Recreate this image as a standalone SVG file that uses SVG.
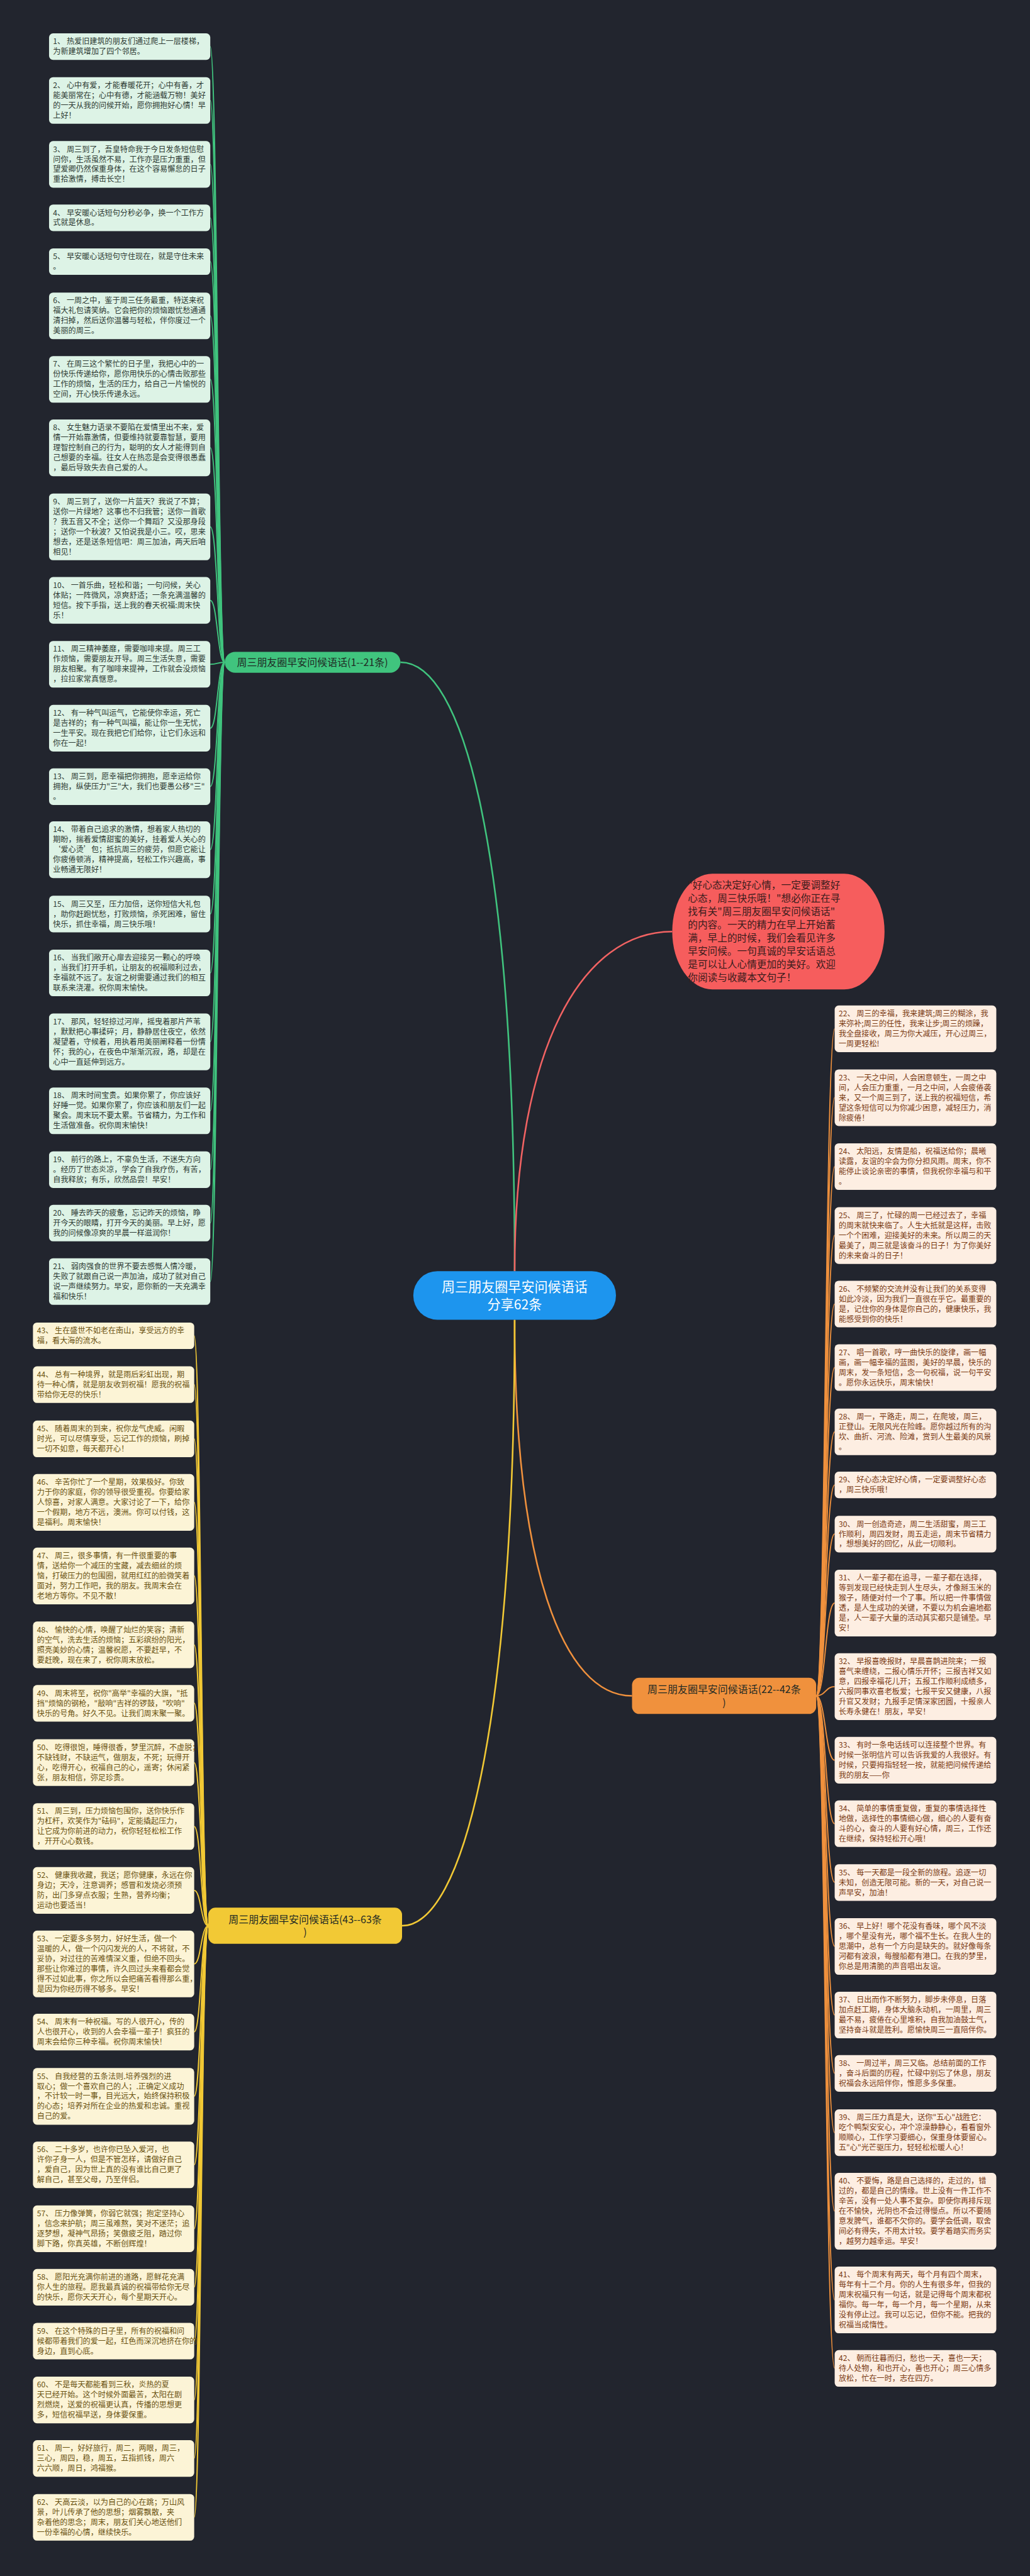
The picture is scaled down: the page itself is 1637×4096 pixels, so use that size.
<svg xmlns="http://www.w3.org/2000/svg" width="1637" height="4096" viewBox="0 0 1637 4096">
<style>
.t{font-family:"Noto Sans CJK SC","Noto Sans",sans-serif;font-size:19px}
.tg{fill:#2d3a33}.to{fill:#7a3a12}.ty{fill:#6a5210}
.rg{fill:#ddf3e6}.ro{fill:#fdeee2}.ry{fill:#fcf4d6}
.cg{stroke:#40c47e;stroke-width:3;fill:none}
.co{stroke:#f0913d;stroke-width:3;fill:none}
.cy{stroke:#f2c935;stroke-width:3;fill:none}
.m{stroke-width:4;fill:none}
.bt{font-family:"Noto Sans CJK SC","Noto Sans",sans-serif;font-size:25px;fill:#1f2a24;text-anchor:middle}
</style>
<rect width="1637" height="4096" fill="#22252e"/>
<g transform="scale(0.639)">
<g id="connectors">
<path class="m" stroke="#40c47e" d="M1280,3163 C1280,2100 1150,1648 996,1648"/>
<path class="m" stroke="#f26363" d="M1280,3163 C1280,2600 1450,2318 1672,2318"/>
<path class="m" stroke="#f0913d" d="M1280,3284 C1280,3900 1400,4220 1572,4220"/>
<path class="m" stroke="#f2c935" d="M1280,3284 C1280,4300 1150,4792 1000,4792"/>
<path class="cg" d="M559,1648 C541,1648 541,116 523,116"/>
<path class="cg" d="M559,1648 C541,1648 541,250 523,250"/>
<path class="cg" d="M559,1648 C541,1648 541,409 523,409"/>
<path class="cg" d="M559,1648 C541,1648 541,542 523,542"/>
<path class="cg" d="M559,1648 C541,1648 541,651 523,651"/>
<path class="cg" d="M559,1648 C541,1648 541,786 523,786"/>
<path class="cg" d="M559,1648 C541,1648 541,944 523,944"/>
<path class="cg" d="M559,1648 C541,1648 541,1114 523,1114"/>
<path class="cg" d="M559,1648 C541,1648 541,1311 523,1311"/>
<path class="cg" d="M559,1648 C541,1648 541,1494 523,1494"/>
<path class="cg" d="M559,1648 C541,1648 541,1653 523,1653"/>
<path class="cg" d="M559,1648 C541,1648 541,1812 523,1812"/>
<path class="cg" d="M559,1648 C541,1648 541,1957 523,1957"/>
<path class="cg" d="M559,1648 C541,1648 541,2114 523,2114"/>
<path class="cg" d="M559,1648 C541,1648 541,2274 523,2274"/>
<path class="cg" d="M559,1648 C541,1648 541,2421 523,2421"/>
<path class="cg" d="M559,1648 C541,1648 541,2592 523,2592"/>
<path class="cg" d="M559,1648 C541,1648 541,2764 523,2764"/>
<path class="cg" d="M559,1648 C541,1648 541,2910 523,2910"/>
<path class="cg" d="M559,1648 C541,1648 541,3043 523,3043"/>
<path class="cg" d="M559,1648 C541,1648 541,3189 523,3189"/>
<path class="co" d="M2030,4220 C2053,4220 2053,2560 2076,2560"/>
<path class="co" d="M2030,4220 C2053,4220 2053,2731 2076,2731"/>
<path class="co" d="M2030,4220 C2053,4220 2053,2903 2076,2903"/>
<path class="co" d="M2030,4220 C2053,4220 2053,3074 2076,3074"/>
<path class="co" d="M2030,4220 C2053,4220 2053,3245 2076,3245"/>
<path class="co" d="M2030,4220 C2053,4220 2053,3403 2076,3403"/>
<path class="co" d="M2030,4220 C2053,4220 2053,3563 2076,3563"/>
<path class="co" d="M2030,4220 C2053,4220 2053,3695 2076,3695"/>
<path class="co" d="M2030,4220 C2053,4220 2053,3817 2076,3817"/>
<path class="co" d="M2030,4220 C2053,4220 2053,3989 2076,3989"/>
<path class="co" d="M2030,4220 C2053,4220 2053,4197 2076,4197"/>
<path class="co" d="M2030,4220 C2053,4220 2053,4380 2076,4380"/>
<path class="co" d="M2030,4220 C2053,4220 2053,4538 2076,4538"/>
<path class="co" d="M2030,4220 C2053,4220 2053,4684 2076,4684"/>
<path class="co" d="M2030,4220 C2053,4220 2053,4843 2076,4843"/>
<path class="co" d="M2030,4220 C2053,4220 2053,5014 2076,5014"/>
<path class="co" d="M2030,4220 C2053,4220 2053,5159 2076,5159"/>
<path class="co" d="M2030,4220 C2053,4220 2053,5307 2076,5307"/>
<path class="co" d="M2030,4220 C2053,4220 2053,5502 2076,5502"/>
<path class="co" d="M2030,4220 C2053,4220 2053,5723 2076,5723"/>
<path class="co" d="M2030,4220 C2053,4220 2053,5893 2076,5893"/>
<path class="cy" d="M518,4792 C500,4792 500,3324 483,3324"/>
<path class="cy" d="M518,4792 C500,4792 500,3445 483,3445"/>
<path class="cy" d="M518,4792 C500,4792 500,3580 483,3580"/>
<path class="cy" d="M518,4792 C500,4792 500,3738 483,3738"/>
<path class="cy" d="M518,4792 C500,4792 500,3921 483,3921"/>
<path class="cy" d="M518,4792 C500,4792 500,4093 483,4093"/>
<path class="cy" d="M518,4792 C500,4792 500,4238 483,4238"/>
<path class="cy" d="M518,4792 C500,4792 500,4386 483,4386"/>
<path class="cy" d="M518,4792 C500,4792 500,4545 483,4545"/>
<path class="cy" d="M518,4792 C500,4792 500,4704 483,4704"/>
<path class="cy" d="M518,4792 C500,4792 500,4887 483,4887"/>
<path class="cy" d="M518,4792 C500,4792 500,5056 483,5056"/>
<path class="cy" d="M518,4792 C500,4792 500,5216 483,5216"/>
<path class="cy" d="M518,4792 C500,4792 500,5387 483,5387"/>
<path class="cy" d="M518,4792 C500,4792 500,5546 483,5546"/>
<path class="cy" d="M518,4792 C500,4792 500,5691 483,5691"/>
<path class="cy" d="M518,4792 C500,4792 500,5825 483,5825"/>
<path class="cy" d="M518,4792 C500,4792 500,5972 483,5972"/>
<path class="cy" d="M518,4792 C500,4792 500,6117 483,6117"/>
<path class="cy" d="M518,4792 C500,4792 500,6264 483,6264"/>
</g>

<g id="center"><rect x="1028" y="3163" width="504" height="121" rx="60" fill="#1d95ee"/>
<text font-family="Noto Sans CJK SC, Noto Sans, sans-serif" font-size="33" fill="#ffffff" text-anchor="middle"><tspan x="1280" y="3214">周三朋友圈早安问候语话</tspan><tspan x="1280" y="3258">分享62条</tspan></text></g>

<g id="intro"><rect x="1672" y="2174" width="528" height="288" rx="100" ry="144" fill="#f65d5d"/>
<text font-family="Noto Sans CJK SC, Noto Sans, sans-serif" font-size="24.5" fill="#3a1c1c"><tspan x="1711" y="2212">"好心态决定好心情，一定要调整好</tspan><tspan x="1711" dy="32.7">心态，周三快乐哦！"想必你正在寻</tspan><tspan x="1711" dy="32.7">找有关"周三朋友圈早安问候语话"</tspan><tspan x="1711" dy="32.7">的内容。一天的精力在早上开始蓄</tspan><tspan x="1711" dy="32.7">满，早上的时候，我们会看见许多</tspan><tspan x="1711" dy="32.7">早安问候。一句真诚的早安话语总</tspan><tspan x="1711" dy="32.7">是可以让人心情更加的美好。欢迎</tspan><tspan x="1711" dy="32.7">你阅读与收藏本文句子！</tspan></text></g>

<g id="b1"><rect x="559" y="1622" width="437" height="52" rx="26" fill="#40c47e"/><text class="bt" x="777" y="1657">周三朋友圈早安问候语话(1--21条)</text></g>
<g id="b2"><rect x="1572" y="4175" width="458" height="90" rx="18" fill="#f0913d"/><text class="bt"><tspan x="1801" y="4213">周三朋友圈早安问候语话(22--42条</tspan><tspan x="1801" dy="32">)</tspan></text></g>
<g id="b3"><rect x="518" y="4747" width="482" height="90" rx="18" fill="#f2c935"/><text class="bt"><tspan x="759" y="4785">周三朋友圈早安问候语话(43--63条</tspan><tspan x="759" dy="32">)</tspan></text></g>

<g id="n1" transform="translate(122,83)"><rect class="rg" width="401" height="66" rx="10"/><text class="t tg"><tspan x="10" y="27">1、 热爱旧建筑的朋友们通过爬上一层楼梯，</tspan><tspan x="10" dy="25">为新建筑增加了四个邻居。</tspan></text></g>
<g id="n2" transform="translate(122,192)"><rect class="rg" width="401" height="116" rx="10"/><text class="t tg"><tspan x="10" y="27">2、 心中有爱，才能春暖花开；心中有善，才</tspan><tspan x="10" dy="25">能美丽常在；心中有德，才能涵载万物！美好</tspan><tspan x="10" dy="25">的一天从我的问候开始，愿你拥抱好心情！早</tspan><tspan x="10" dy="25">上好！</tspan></text></g>
<g id="n3" transform="translate(122,351)"><rect class="rg" width="401" height="116" rx="10"/><text class="t tg"><tspan x="10" y="27">3、 周三到了，吾皇特命我于今日发条短信慰</tspan><tspan x="10" dy="25">问你，生活虽然不易，工作亦是压力重重，但</tspan><tspan x="10" dy="25">望爱卿仍然保重身体，在这个容易懈怠的日子</tspan><tspan x="10" dy="25">重拾激情，搏击长空！</tspan></text></g>
<g id="n4" transform="translate(122,509)"><rect class="rg" width="401" height="66" rx="10"/><text class="t tg"><tspan x="10" y="27">4、 早安暖心话短句分秒必争，换一个工作方</tspan><tspan x="10" dy="25">式就是休息。</tspan></text></g>
<g id="n5" transform="translate(122,618)"><rect class="rg" width="401" height="66" rx="10"/><text class="t tg"><tspan x="10" y="27">5、 早安暖心话短句守住现在，就是守住未来</tspan><tspan x="10" dy="25">。</tspan></text></g>
<g id="n6" transform="translate(122,728)"><rect class="rg" width="401" height="116" rx="10"/><text class="t tg"><tspan x="10" y="27">6、 一周之中，鉴于周三任务最重，特送来祝</tspan><tspan x="10" dy="25">福大礼包请笑纳。它会把你的烦恼跟忧愁通通</tspan><tspan x="10" dy="25">清扫掉，然后送你温馨与轻松，伴你度过一个</tspan><tspan x="10" dy="25">美丽的周三。</tspan></text></g>
<g id="n7" transform="translate(122,886)"><rect class="rg" width="401" height="116" rx="10"/><text class="t tg"><tspan x="10" y="27">7、 在周三这个繁忙的日子里，我把心中的一</tspan><tspan x="10" dy="25">份快乐传递给你，愿你用快乐的心情击败那些</tspan><tspan x="10" dy="25">工作的烦恼，生活的压力，给自己一片愉悦的</tspan><tspan x="10" dy="25">空间，开心快乐传递永远。</tspan></text></g>
<g id="n8" transform="translate(122,1044)"><rect class="rg" width="401" height="141" rx="10"/><text class="t tg"><tspan x="10" y="27">8、 女生魅力语录不要陷在爱情里出不来，爱</tspan><tspan x="10" dy="25">情一开始靠激情，但要维持就要靠智慧，要用</tspan><tspan x="10" dy="25">理智控制自己的行为，聪明的女人才能得到自</tspan><tspan x="10" dy="25">己想要的幸福。往女人在热恋是会变得很愚蠢</tspan><tspan x="10" dy="25">，最后导致失去自己爱的人。</tspan></text></g>
<g id="n9" transform="translate(122,1228)"><rect class="rg" width="401" height="166" rx="10"/><text class="t tg"><tspan x="10" y="27">9、 周三到了，送你一片蓝天？我说了不算；</tspan><tspan x="10" dy="25">送你一片绿地？这事也不归我管；送你一首歌</tspan><tspan x="10" dy="25">？我五音又不全；送你一个舞蹈？又没那身段</tspan><tspan x="10" dy="25">；送你一个秋波？又怕说我是小三。哎，思来</tspan><tspan x="10" dy="25">想去，还是送条短信吧：周三加油，两天后咱</tspan><tspan x="10" dy="25">相见！</tspan></text></g>
<g id="n10" transform="translate(122,1436)"><rect class="rg" width="401" height="116" rx="10"/><text class="t tg"><tspan x="10" y="27">10、 一首乐曲，轻松和谐；一句问候，关心</tspan><tspan x="10" dy="25">体贴；一阵微风，凉爽舒适；一条充满温馨的</tspan><tspan x="10" dy="25">短信。按下手指，送上我的春天祝福:周末快</tspan><tspan x="10" dy="25">乐！</tspan></text></g>
<g id="n11" transform="translate(122,1595)"><rect class="rg" width="401" height="116" rx="10"/><text class="t tg"><tspan x="10" y="27">11、 周三精神萎靡，需要咖啡来提。周三工</tspan><tspan x="10" dy="25">作烦恼，需要朋友开导。周三生活失意，需要</tspan><tspan x="10" dy="25">朋友相聚。有了咖啡来提神，工作就会没烦恼</tspan><tspan x="10" dy="25">，拉拉家常真惬意。</tspan></text></g>
<g id="n12" transform="translate(122,1754)"><rect class="rg" width="401" height="116" rx="10"/><text class="t tg"><tspan x="10" y="27">12、 有一种气叫运气，它能使你幸运，死亡</tspan><tspan x="10" dy="25">是吉祥的；有一种气叫福，能让你一生无忧，</tspan><tspan x="10" dy="25">一生平安。现在我把它们给你，让它们永远和</tspan><tspan x="10" dy="25">你在一起！</tspan></text></g>
<g id="n13" transform="translate(122,1912)"><rect class="rg" width="401" height="91" rx="10"/><text class="t tg"><tspan x="10" y="27">13、 周三到，愿幸福把你拥抱，愿幸运给你</tspan><tspan x="10" dy="25">拥抱，纵使压力"三"大，我们也要愚公移"三"</tspan><tspan x="10" dy="25">。</tspan></text></g>
<g id="n14" transform="translate(122,2044)"><rect class="rg" width="401" height="141" rx="10"/><text class="t tg"><tspan x="10" y="27">14、 带着自己追求的激情，想着家人热切的</tspan><tspan x="10" dy="25">期盼，揣着爱情甜蜜的美好，挂着爱人关心的</tspan><tspan x="10" dy="25">‘爱心烫’包；抵抗周三的疲劳，但愿它能让</tspan><tspan x="10" dy="25">你疲倦顿消，精神提高，轻松工作兴趣高，事</tspan><tspan x="10" dy="25">业畅通无限好！</tspan></text></g>
<g id="n15" transform="translate(122,2229)"><rect class="rg" width="401" height="91" rx="10"/><text class="t tg"><tspan x="10" y="27">15、 周三又至，压力加倍，送你短信大礼包</tspan><tspan x="10" dy="25">，助你赶跑忧愁，打败烦恼，杀死困难，留住</tspan><tspan x="10" dy="25">快乐，抓住幸福，周三快乐哦！</tspan></text></g>
<g id="n16" transform="translate(122,2363)"><rect class="rg" width="401" height="116" rx="10"/><text class="t tg"><tspan x="10" y="27">16、 当我们敞开心扉去迎接另一颗心的呼唤</tspan><tspan x="10" dy="25">，当我们打开手机，让朋友的祝福顺利过去，</tspan><tspan x="10" dy="25">幸福就不远了。友谊之树需要通过我们的相互</tspan><tspan x="10" dy="25">联系来浇灌。祝你周末愉快。</tspan></text></g>
<g id="n17" transform="translate(122,2522)"><rect class="rg" width="401" height="141" rx="10"/><text class="t tg"><tspan x="10" y="27">17、 那风，轻轻掠过河岸，摇曳着那片芦苇</tspan><tspan x="10" dy="25">，默默把心事揉碎；月，静静居住夜空，依然</tspan><tspan x="10" dy="25">凝望着，守候着，用执着用美丽阐释着一份情</tspan><tspan x="10" dy="25">怀；我的心，在夜色中渐渐沉寂，路，却是在</tspan><tspan x="10" dy="25">心中一直延伸到远方。</tspan></text></g>
<g id="n18" transform="translate(122,2706)"><rect class="rg" width="401" height="116" rx="10"/><text class="t tg"><tspan x="10" y="27">18、 周末时间宝贵。如果你累了，你应该好</tspan><tspan x="10" dy="25">好睡一觉。如果你累了，你应该和朋友们一起</tspan><tspan x="10" dy="25">聚会。周末玩不要太累。节省精力，为工作和</tspan><tspan x="10" dy="25">生活做准备。祝你周末愉快！</tspan></text></g>
<g id="n19" transform="translate(122,2865)"><rect class="rg" width="401" height="91" rx="10"/><text class="t tg"><tspan x="10" y="27">19、 前行的路上，不辜负生活，不迷失方向</tspan><tspan x="10" dy="25">。经历了世态炎凉，学会了自我疗伤，有苦，</tspan><tspan x="10" dy="25">自我释放；有乐，欣然品尝！早安！</tspan></text></g>
<g id="n20" transform="translate(122,2998)"><rect class="rg" width="401" height="91" rx="10"/><text class="t tg"><tspan x="10" y="27">20、 睡去昨天的疲惫，忘记昨天的烦恼，睁</tspan><tspan x="10" dy="25">开今天的眼睛，打开今天的美丽。早上好，愿</tspan><tspan x="10" dy="25">我的问候像凉爽的早晨一样滋润你！</tspan></text></g>
<g id="n21" transform="translate(122,3131)"><rect class="rg" width="401" height="116" rx="10"/><text class="t tg"><tspan x="10" y="27">21、 弱肉强食的世界不要去感慨人情冷暖，</tspan><tspan x="10" dy="25">失败了就跟自己说一声加油，成功了就对自己</tspan><tspan x="10" dy="25">说一声继续努力。早安，愿你新的一天充满幸</tspan><tspan x="10" dy="25">福和快乐！</tspan></text></g>

<g id="n22" transform="translate(2076,2502)"><rect class="ro" width="402" height="116" rx="10"/><text class="t to"><tspan x="10" y="27">22、 周三的幸福，我来建筑;周三的糊涂，我</tspan><tspan x="10" dy="25">来弥补;周三的任性，我来让步;周三的烦躁，</tspan><tspan x="10" dy="25">我全盘接收，周三为你大减压，开心过周三，</tspan><tspan x="10" dy="25">一周更轻松!</tspan></text></g>
<g id="n23" transform="translate(2076,2661)"><rect class="ro" width="402" height="141" rx="10"/><text class="t to"><tspan x="10" y="27">23、 一天之中间，人会困意顿生，一周之中</tspan><tspan x="10" dy="25">间，人会压力重重，一月之中间，人会疲倦袭</tspan><tspan x="10" dy="25">来，又一个周三到了，送上我的祝福短信，希</tspan><tspan x="10" dy="25">望这条短信可以为你减少困意，减轻压力，消</tspan><tspan x="10" dy="25">除疲倦！</tspan></text></g>
<g id="n24" transform="translate(2076,2845)"><rect class="ro" width="402" height="116" rx="10"/><text class="t to"><tspan x="10" y="27">24、 太阳远，友情是船，祝福送给你；晨曦</tspan><tspan x="10" dy="25">读露，友谊的伞会为你分担风雨。周末，你不</tspan><tspan x="10" dy="25">能停止谈论亲密的事情，但我祝你幸福与和平</tspan><tspan x="10" dy="25">。</tspan></text></g>
<g id="n25" transform="translate(2076,3004)"><rect class="ro" width="402" height="141" rx="10"/><text class="t to"><tspan x="10" y="27">25、 周三了，忙碌的周一已经过去了，幸福</tspan><tspan x="10" dy="25">的周末就快来临了。人生大抵就是这样，击败</tspan><tspan x="10" dy="25">一个个困难，迎接美好的未来。所以周三的天</tspan><tspan x="10" dy="25">最美了，周三就是该奋斗的日子！为了你美好</tspan><tspan x="10" dy="25">的未来奋斗的日子！</tspan></text></g>
<g id="n26" transform="translate(2076,3187)"><rect class="ro" width="402" height="116" rx="10"/><text class="t to"><tspan x="10" y="27">26、 不频繁的交流并没有让我们的关系变得</tspan><tspan x="10" dy="25">如此冷淡，因为我们一直很在乎它。最重要的</tspan><tspan x="10" dy="25">是，记住你的身体是你自己的，健康快乐，我</tspan><tspan x="10" dy="25">能感受到你的快乐！</tspan></text></g>
<g id="n27" transform="translate(2076,3345)"><rect class="ro" width="402" height="116" rx="10"/><text class="t to"><tspan x="10" y="27">27、 唱一首歌，哼一曲快乐的旋律，画一幅</tspan><tspan x="10" dy="25">画，画一幅幸福的蓝图，美好的早晨，快乐的</tspan><tspan x="10" dy="25">周末，发一条短信，念一句祝福，说一句平安</tspan><tspan x="10" dy="25">。愿你永远快乐，周末愉快！</tspan></text></g>
<g id="n28" transform="translate(2076,3505)"><rect class="ro" width="402" height="116" rx="10"/><text class="t to"><tspan x="10" y="27">28、 周一，平路走，周二，在爬坡，周三，</tspan><tspan x="10" dy="25">正登山。无限风光在险峰。愿你越过所有的沟</tspan><tspan x="10" dy="25">坎、曲折、河流、险滩，赏到人生最美的风景</tspan><tspan x="10" dy="25">。</tspan></text></g>
<g id="n29" transform="translate(2076,3662)"><rect class="ro" width="402" height="66" rx="10"/><text class="t to"><tspan x="10" y="27">29、 好心态决定好心情，一定要调整好心态</tspan><tspan x="10" dy="25">，周三快乐哦！</tspan></text></g>
<g id="n30" transform="translate(2076,3772)"><rect class="ro" width="402" height="91" rx="10"/><text class="t to"><tspan x="10" y="27">30、 周一创造奇迹，周二生活甜蜜，周三工</tspan><tspan x="10" dy="25">作顺利，周四发财，周五走运，周末节省精力</tspan><tspan x="10" dy="25">，想想美好的回忆，从此一切顺利。</tspan></text></g>
<g id="n31" transform="translate(2076,3906)"><rect class="ro" width="402" height="166" rx="10"/><text class="t to"><tspan x="10" y="27">31、 人一辈子都在追寻，一辈子都在选择，</tspan><tspan x="10" dy="25">等到发现已经快走到人生尽头，才像掰玉米的</tspan><tspan x="10" dy="25">猴子，随便对付一个了事。所以把一件事情做</tspan><tspan x="10" dy="25">透，是人生成功的关键，不要以为机会遍地都</tspan><tspan x="10" dy="25">是，人一辈子大量的活动其实都只是铺垫。早</tspan><tspan x="10" dy="25">安！</tspan></text></g>
<g id="n32" transform="translate(2076,4114)"><rect class="ro" width="402" height="166" rx="10"/><text class="t to"><tspan x="10" y="27">32、 早报喜晚报财，早晨喜鹊进院来；一报</tspan><tspan x="10" dy="25">喜气来缠绕，二报心情乐开怀；三报吉祥又如</tspan><tspan x="10" dy="25">意，四报幸福花儿开；五报工作顺利成绩多，</tspan><tspan x="10" dy="25">六报同事欢喜老板爱；七报平安又健康，八报</tspan><tspan x="10" dy="25">升官又发财；九报手足情深家团圆，十报亲人</tspan><tspan x="10" dy="25">长寿永健在！朋友，早安！</tspan></text></g>
<g id="n33" transform="translate(2076,4322)"><rect class="ro" width="402" height="116" rx="10"/><text class="t to"><tspan x="10" y="27">33、 有时一条电话线可以连接整个世界。有</tspan><tspan x="10" dy="25">时候一张明信片可以告诉我爱的人我很好。有</tspan><tspan x="10" dy="25">时候，只要拇指轻轻一按，就能把问候传递给</tspan><tspan x="10" dy="25">我的朋友——你</tspan></text></g>
<g id="n34" transform="translate(2076,4480)"><rect class="ro" width="402" height="116" rx="10"/><text class="t to"><tspan x="10" y="27">34、 简单的事情重复做，重复的事情选择性</tspan><tspan x="10" dy="25">地做，选择性的事情细心做，细心的人要有奋</tspan><tspan x="10" dy="25">斗的心，奋斗的人要有好心情，周三，工作还</tspan><tspan x="10" dy="25">在继续，保持轻松开心哦！</tspan></text></g>
<g id="n35" transform="translate(2076,4639)"><rect class="ro" width="402" height="91" rx="10"/><text class="t to"><tspan x="10" y="27">35、 每一天都是一段全新的旅程。追逐一切</tspan><tspan x="10" dy="25">未知，创造无限可能。新的一天，对自己说一</tspan><tspan x="10" dy="25">声早安，加油！</tspan></text></g>
<g id="n36" transform="translate(2076,4773)"><rect class="ro" width="402" height="141" rx="10"/><text class="t to"><tspan x="10" y="27">36、 早上好！哪个花没有香味，哪个风不淡</tspan><tspan x="10" dy="25">，哪个星没有光，哪个福不生长。在我人生的</tspan><tspan x="10" dy="25">思潮中，总有一个方向是缺失的。就好像每条</tspan><tspan x="10" dy="25">河都有波浪，每艘船都有港口。在我的梦里，</tspan><tspan x="10" dy="25">你总是用清脆的声音唱出友谊。</tspan></text></g>
<g id="n37" transform="translate(2076,4956)"><rect class="ro" width="402" height="116" rx="10"/><text class="t to"><tspan x="10" y="27">37、 日出而作不断努力，脚步未停息，日落</tspan><tspan x="10" dy="25">加点赶工期，身体大脑永动机，一周里，周三</tspan><tspan x="10" dy="25">最不易，疲倦在心里堆积，自我加油鼓士气，</tspan><tspan x="10" dy="25">坚持奋斗就是胜利。愿愉快周三一直陪伴你。</tspan></text></g>
<g id="n38" transform="translate(2076,5114)"><rect class="ro" width="402" height="91" rx="10"/><text class="t to"><tspan x="10" y="27">38、 一周过半，周三又临。总结前面的工作</tspan><tspan x="10" dy="25">，奋斗后面的历程，忙碌中别忘了休息，朋友</tspan><tspan x="10" dy="25">祝福会永远陪伴你，惟愿多多保重。</tspan></text></g>
<g id="n39" transform="translate(2076,5249)"><rect class="ro" width="402" height="116" rx="10"/><text class="t to"><tspan x="10" y="27">39、 周三压力真是大，送你"五心"战胜它：</tspan><tspan x="10" dy="25">吃个鸭梨安安心，冲个凉澡静静心，看看窗外</tspan><tspan x="10" dy="25">顺顺心，工作学习要细心，保重身体要留心。</tspan><tspan x="10" dy="25">五"心"光芒驱压力，轻轻松松暖人心！</tspan></text></g>
<g id="n40" transform="translate(2076,5407)"><rect class="ro" width="402" height="191" rx="10"/><text class="t to"><tspan x="10" y="27">40、 不要悔，路是自己选择的，走过的，错</tspan><tspan x="10" dy="25">过的，都是自己的情缘。世上没有一件工作不</tspan><tspan x="10" dy="25">辛苦，没有一处人事不复杂。即使你再排斥现</tspan><tspan x="10" dy="25">在不愉快，光阴也不会过得慢点。所以不要随</tspan><tspan x="10" dy="25">意发脾气，谁都不欠你的。要学会低调，取舍</tspan><tspan x="10" dy="25">间必有得失，不用太计较。要学着踏实而务实</tspan><tspan x="10" dy="25">，越努力越幸运。早安！</tspan></text></g>
<g id="n41" transform="translate(2076,5640)"><rect class="ro" width="402" height="166" rx="10"/><text class="t to"><tspan x="10" y="27">41、 每个周末有两天，每个月有四个周末，</tspan><tspan x="10" dy="25">每年有十二个月。你的人生有很多年，但我的</tspan><tspan x="10" dy="25">周末祝福只有一句话，就是记得每个周末都祝</tspan><tspan x="10" dy="25">福你。每一年，每一个月，每一个星期，从来</tspan><tspan x="10" dy="25">没有停止过。我可以忘记，但你不能。把我的</tspan><tspan x="10" dy="25">祝福当成惰性。</tspan></text></g>
<g id="n42" transform="translate(2076,5848)"><rect class="ro" width="402" height="91" rx="10"/><text class="t to"><tspan x="10" y="27">42、 朝而往暮而归，愁也一天，喜也一天；</tspan><tspan x="10" dy="25">待人处物，和也开心，善也开心；周三心情多</tspan><tspan x="10" dy="25">放松，忙在一时，志在四方。</tspan></text></g>

<g id="n43" transform="translate(82,3291)"><rect class="ry" width="401" height="66" rx="10"/><text class="t ty"><tspan x="10" y="27">43、 生在盛世不如老在南山，享受远方的幸</tspan><tspan x="10" dy="25">福，看大海的流水。</tspan></text></g>
<g id="n44" transform="translate(82,3400)"><rect class="ry" width="401" height="91" rx="10"/><text class="t ty"><tspan x="10" y="27">44、 总有一种境界，就是雨后彩虹出现，期</tspan><tspan x="10" dy="25">待一种心情，就是朋友收到祝福！愿我的祝福</tspan><tspan x="10" dy="25">带给你无尽的快乐！</tspan></text></g>
<g id="n45" transform="translate(82,3535)"><rect class="ry" width="401" height="91" rx="10"/><text class="t ty"><tspan x="10" y="27">45、 随着周末的到来，祝你龙气虎威。闲暇</tspan><tspan x="10" dy="25">时光，可以尽情享受，忘记工作的烦恼，刷掉</tspan><tspan x="10" dy="25">一切不如意，每天都开心！</tspan></text></g>
<g id="n46" transform="translate(82,3668)"><rect class="ry" width="401" height="141" rx="10"/><text class="t ty"><tspan x="10" y="27">46、 辛苦你忙了一个星期，效果极好。你致</tspan><tspan x="10" dy="25">力于你的家庭，你的领导很受重视。你要给家</tspan><tspan x="10" dy="25">人惊喜，对家人满意。大家讨论了一下，给你</tspan><tspan x="10" dy="25">一个假期，地方不远，澳洲。你可以付钱，这</tspan><tspan x="10" dy="25">是福利。周末愉快！</tspan></text></g>
<g id="n47" transform="translate(82,3851)"><rect class="ry" width="401" height="141" rx="10"/><text class="t ty"><tspan x="10" y="27">47、 周三，很多事情，有一件很重要的事</tspan><tspan x="10" dy="25">情，送给你一个减压的宝藏，减去细丝的烦</tspan><tspan x="10" dy="25">恼，打破压力的包围圈，就用红红的脸微笑着</tspan><tspan x="10" dy="25">面对，努力工作吧，我的朋友。我周末会在</tspan><tspan x="10" dy="25">老地方等你。不见不散！</tspan></text></g>
<g id="n48" transform="translate(82,4035)"><rect class="ry" width="401" height="116" rx="10"/><text class="t ty"><tspan x="10" y="27">48、 愉快的心情，唤醒了灿烂的笑容；清新</tspan><tspan x="10" dy="25">的空气，洗去生活的烦恼；五彩缤纷的阳光，</tspan><tspan x="10" dy="25">照亮美妙的心情；温馨祝愿，不要赶早，不</tspan><tspan x="10" dy="25">要赶晚，现在来了，祝你周末放松。</tspan></text></g>
<g id="n49" transform="translate(82,4193)"><rect class="ry" width="401" height="91" rx="10"/><text class="t ty"><tspan x="10" y="27">49、 周末将至，祝你"高举"幸福的大旗，"抵</tspan><tspan x="10" dy="25">挡"烦恼的钢枪，"敲响"吉祥的锣鼓，"吹响"</tspan><tspan x="10" dy="25">快乐的号角。好久不见。让我们周末聚一聚。</tspan></text></g>
<g id="n50" transform="translate(82,4328)"><rect class="ry" width="401" height="116" rx="10"/><text class="t ty"><tspan x="10" y="27">50、 吃得很饱，睡得很香，梦里沉醉，不虚脱；</tspan><tspan x="10" dy="25">不缺钱财，不缺运气，做朋友，不死；玩得开</tspan><tspan x="10" dy="25">心，吃得开心，祝福自己的心，遥寄；休闲紧</tspan><tspan x="10" dy="25">张，朋友相信，弥足珍贵。</tspan></text></g>
<g id="n51" transform="translate(82,4487)"><rect class="ry" width="401" height="116" rx="10"/><text class="t ty"><tspan x="10" y="27">51、 周三到，压力烦恼包围你，送你快乐作</tspan><tspan x="10" dy="25">为杠杆，欢笑作为"砝码"，定能撬起压力，</tspan><tspan x="10" dy="25">让它成为你前进的动力，祝你轻轻松松工作</tspan><tspan x="10" dy="25">，开开心心数钱。</tspan></text></g>
<g id="n52" transform="translate(82,4646)"><rect class="ry" width="401" height="116" rx="10"/><text class="t ty"><tspan x="10" y="27">52、 健康我收藏，我送；愿你健康，永远在你</tspan><tspan x="10" dy="25">身边；天冷，注意调养；感冒和发烧必须预</tspan><tspan x="10" dy="25">防，出门多穿点衣服；生熟，营养均衡；</tspan><tspan x="10" dy="25">运动也要适当！</tspan></text></g>
<g id="n53" transform="translate(82,4804)"><rect class="ry" width="401" height="166" rx="10"/><text class="t ty"><tspan x="10" y="27">53、 一定要多多努力，好好生活，做一个</tspan><tspan x="10" dy="25">温暖的人，做一个闪闪发光的人，不将就，不</tspan><tspan x="10" dy="25">妥协，对过往的苦难情深义重，但绝不回头。</tspan><tspan x="10" dy="25">那些让你难过的事情，许久回过头来看都会觉</tspan><tspan x="10" dy="25">得不过如此事，你之所以会把痛苦看得那么重，</tspan><tspan x="10" dy="25">是因为你经历得不够多。早安！</tspan></text></g>
<g id="n54" transform="translate(82,5011)"><rect class="ry" width="401" height="91" rx="10"/><text class="t ty"><tspan x="10" y="27">54、 周末有一种祝福。写的人很开心，传的</tspan><tspan x="10" dy="25">人也很开心，收到的人会幸福一辈子！疯狂的</tspan><tspan x="10" dy="25">周末会给你三种幸福。祝你周末愉快！</tspan></text></g>
<g id="n55" transform="translate(82,5146)"><rect class="ry" width="401" height="141" rx="10"/><text class="t ty"><tspan x="10" y="27">55、 自我经营的五条法则.培养强烈的进</tspan><tspan x="10" dy="25">取心；做一个喜欢自己的人；.正确定义成功</tspan><tspan x="10" dy="25">，不计较一时一事，目光远大，始终保持积极</tspan><tspan x="10" dy="25">的心态；培养对所在企业的热爱和忠诚。重视</tspan><tspan x="10" dy="25">自己的爱。</tspan></text></g>
<g id="n56" transform="translate(82,5329)"><rect class="ry" width="401" height="116" rx="10"/><text class="t ty"><tspan x="10" y="27">56、 二十多岁，也许你已坠入爱河，也</tspan><tspan x="10" dy="25">许你孑身一人，但是不管怎样，请做好自己</tspan><tspan x="10" dy="25">，爱自己，因为世上真的没有谁比自己更了</tspan><tspan x="10" dy="25">解自己，甚至父母，乃至伴侣。</tspan></text></g>
<g id="n57" transform="translate(82,5488)"><rect class="ry" width="401" height="116" rx="10"/><text class="t ty"><tspan x="10" y="27">57、 压力像弹簧，你弱它就强；抱定坚持心</tspan><tspan x="10" dy="25">，信念来护航；周三虽难熬，笑对不迷茫；追</tspan><tspan x="10" dy="25">逐梦想，凝神气昂扬；笑傲疲乏阻，踏过你</tspan><tspan x="10" dy="25">脚下路，你真英雄，不断创辉煌！</tspan></text></g>
<g id="n58" transform="translate(82,5646)"><rect class="ry" width="401" height="91" rx="10"/><text class="t ty"><tspan x="10" y="27">58、 愿阳光充满你前进的道路，愿鲜花充满</tspan><tspan x="10" dy="25">你人生的旅程。愿我最真诚的祝福带给你无尽</tspan><tspan x="10" dy="25">的快乐，愿你天天开心，每个星期天开心。</tspan></text></g>
<g id="n59" transform="translate(82,5780)"><rect class="ry" width="401" height="91" rx="10"/><text class="t ty"><tspan x="10" y="27">59、 在这个特殊的日子里，所有的祝福和问</tspan><tspan x="10" dy="25">候都带着我们的爱一起，红色而深沉地挤在你的</tspan><tspan x="10" dy="25">身边，直到心底。</tspan></text></g>
<g id="n60" transform="translate(82,5914)"><rect class="ry" width="401" height="116" rx="10"/><text class="t ty"><tspan x="10" y="27">60、 不是每天都能看到三秋，炎热的夏</tspan><tspan x="10" dy="25">天已经开始。这个时候外面最苦，太阳在剧</tspan><tspan x="10" dy="25">烈燃烧，送爱的祝福更认真，传播的思想更</tspan><tspan x="10" dy="25">多，短信祝福早送，身体要保重。</tspan></text></g>
<g id="n61" transform="translate(82,6072)"><rect class="ry" width="401" height="91" rx="10"/><text class="t ty"><tspan x="10" y="27">61、 周一，好好旅行，周二，两眼，周三，</tspan><tspan x="10" dy="25">三心，周四，稳，周五，五指抓钱，周六</tspan><tspan x="10" dy="25">六六顺，周日，鸿福猴。</tspan></text></g>
<g id="n62" transform="translate(82,6206)"><rect class="ry" width="401" height="116" rx="10"/><text class="t ty"><tspan x="10" y="27">62、 天高云淡，以为自己的心在跳；万山风</tspan><tspan x="10" dy="25">景，叶儿传承了他的思想；烟雾飘散，夹</tspan><tspan x="10" dy="25">杂着他的思念；周末，朋友们关心地送他们</tspan><tspan x="10" dy="25">一份幸福的心情，继续快乐。</tspan></text></g>
</g>
</svg>
